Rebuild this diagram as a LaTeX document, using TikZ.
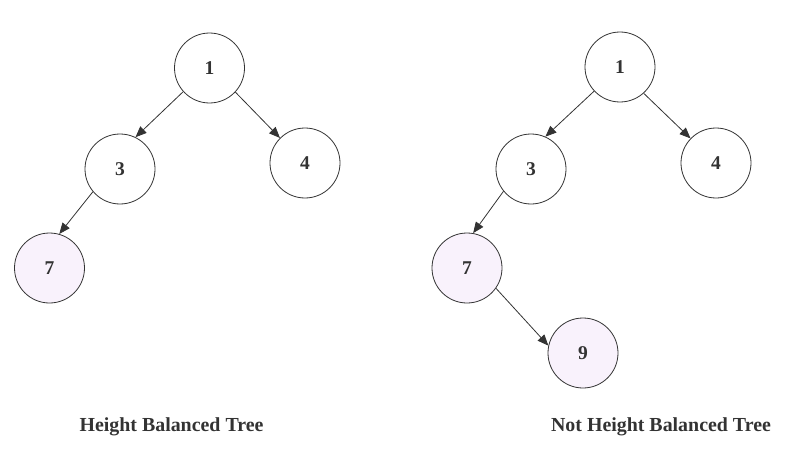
\documentclass[tikz,border=0pt]{standalone}
\usepackage{fontspec}
\setmainfont{Liberation Serif}
\usetikzlibrary{arrows.meta}
\definecolor{ink}{HTML}{333333}
\definecolor{leaf}{HTML}{F9F2FC}
\begin{document}
\begin{tikzpicture}[x=1pt,y=-1pt,
  treenode/.style={circle,draw=ink,line width=0.8pt,minimum size=70pt,inner sep=0pt,
    font=\fontsize{19.5}{21}\selectfont\bfseries,text=ink,fill=white},
  pinknode/.style={treenode,fill=leaf},
  link/.style={draw=ink,line width=0.8pt,-{Triangle[length=11pt,width=9pt]}},
  caption/.style={font=\fontsize{19.9}{23}\selectfont\bfseries,text=ink}]
\useasboundingbox (0,0) rectangle (806,460);
% balanced tree
\node[treenode] (a1) at (209.5,68) {1};
\node[treenode] (a3) at (120,169) {3};
\node[treenode] (a4) at (305,163) {4};
\node[pinknode] (a7) at (49.5,268) {7};
\draw[link] (a1.222) -- (a3.64);
\draw[link] (a1.-43) -- (a4.135);
\draw[link] (a3.220) -- (a7.74);
\node[caption] (ca) at (171.5,426.5) {Height Balanced Tree};
% unbalanced tree
\node[treenode] (b1) at (620,67) {1};
\node[treenode] (b3) at (531,169) {3};
\node[treenode] (b4) at (716,163) {4};
\node[pinknode] (b7) at (467,268) {7};
\node[pinknode] (b9) at (583,353) {9};
\draw[link] (b1.223) -- (b3.66);
\draw[link] (b1.-48) -- (b4.136);
\draw[link] (b3.219) -- (b7.80);
\draw[link] (b7.-35) -- (b9.168);
\node[caption] (cb) at (661,426.5) {Not Height Balanced Tree};
\end{tikzpicture}
\end{document}
